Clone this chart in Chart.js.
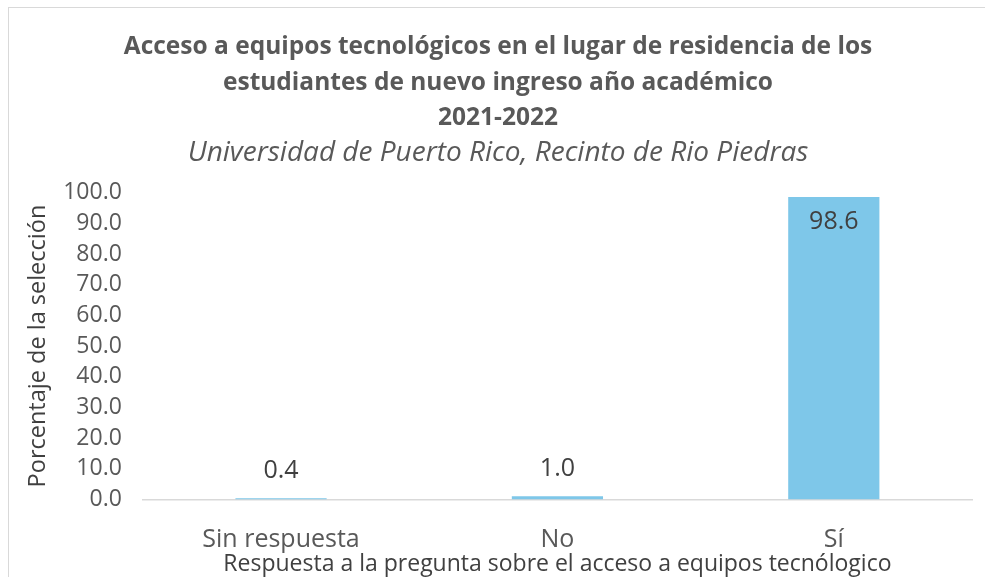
<!DOCTYPE html>
<html><head><meta charset="utf-8">
<script src="https://cdn.jsdelivr.net/npm/chart.js@4/dist/chart.umd.min.js"></script>
<style>
html,body{margin:0;padding:0;background:#fff;width:985px;height:577px;overflow:hidden;}
#frame{position:absolute;left:8px;top:7px;width:990px;height:590px;border:1px solid #d9d9d9;box-sizing:border-box;}
#wrap{position:absolute;left:0;top:0;width:985px;height:577px;}
</style></head>
<body>
<div id="frame"></div>
<div id="wrap"><canvas id="c" width="985" height="577"></canvas></div>
<script>
const categories = ["Sin respuesta", "No", "Sí"];
const values = [0.4, 1.0, 98.6];
const yTicks = [0,10,20,30,40,50,60,70,80,90,100];
const titleLines = ["Acceso a equipos tecnológicos en el lugar de residencia de los", "estudiantes de nuevo ingreso año académico", "2021-2022"];
const subtitleText = "Universidad de Puerto Rico, Recinto de Rio Piedras";
const xTitle = "Respuesta a la pregunta sobre el acceso a equipos tecnólogico";
const yTitle = "Porcentaje de la selección";

const labelPlugin = {
  id: 'valueLabels',
  afterDatasetsDraw(chart) {
    const ctx = chart.ctx;
    const meta = chart.getDatasetMeta(0);
    ctx.save();
    ctx.font = '25px "Open Sans"';
    ctx.fillStyle = '#404040';
    ctx.textAlign = 'center';
    ctx.textBaseline = 'middle';
    meta.data.forEach((bar, i) => {
      const v = values[i];
      const y = v > 50 ? bar.y + 25 : bar.y - 27;
      ctx.fillText(v.toFixed(1), bar.x, y);
    });
    ctx.restore();
  }
};

function draw() {
  new Chart(document.getElementById('c'), {
    type: 'bar',
    data: {
      labels: categories,
      datasets: [{
        data: values,
        backgroundColor: '#7EC7E9',
        borderWidth: 0,
        barPercentage: 0.33,
        categoryPercentage: 1.0
      }]
    },
    options: {
      responsive: false,
      animation: false,
      devicePixelRatio: 1,
      layout: { padding: { left: 24, right: 13, top: 0, bottom: 0 } },
      plugins: {
        legend: { display: false },
        tooltip: { enabled: false },
        title: {
          display: true,
          text: titleLines,
          color: '#595959',
          font: { family: 'Open Sans', size: 24.5, weight: 'bold', lineHeight: 1.45 },
          padding: { top: 29.5, bottom: 0 }
        },
        subtitle: {
          display: true,
          text: subtitleText,
          color: '#595959',
          font: { family: 'Open Sans', size: 28, style: 'italic', lineHeight: 1.2 },
          padding: { top: 0, bottom: 23 }
        }
      },
      scales: {
        x: {
          grid: { display: false, drawTicks: false },
          border: { display: true, color: '#d9d9d9', width: 1.5 },
          ticks: { color: '#595959', font: { family: 'Open Sans', size: 25, lineHeight: 1.2 }, padding: 25 },
          title: { display: true, text: xTitle, color: '#404040', font: { family: 'Open Sans', size: 23, lineHeight: 1.2 }, padding: { top: -29, bottom: -1 } }
        },
        y: {
          min: 0, max: 100,
          afterBuildTicks(axis) { axis.ticks = yTicks.map(v => ({ value: v })); },
          grid: { display: false, drawTicks: false },
          border: { display: false },
          ticks: { autoSkip: false, color: '#595959', font: { family: 'Open Sans', size: 23, lineHeight: 1.2 }, padding: 21, callback: v => Number(v).toFixed(1) },
          title: { display: true, text: yTitle, color: '#404040', font: { family: 'Open Sans', size: 23.5, lineHeight: 1.2 }, padding: { top: 0, bottom: -10 } }
        }
      }
    },
    plugins: [labelPlugin]
  });
}
Promise.all([
  document.fonts.load('25px "Open Sans"'),
  document.fonts.load('bold 25px "Open Sans"'),
  document.fonts.load('italic 25px "Open Sans"')
]).then(draw, draw);
</script>
</body></html>
